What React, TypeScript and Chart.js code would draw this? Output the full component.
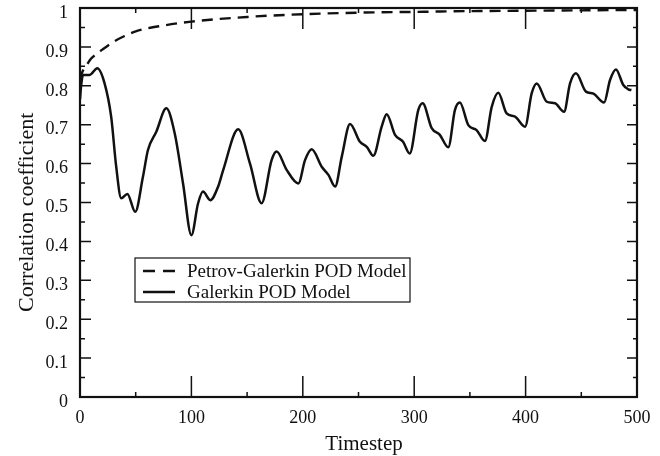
import React, { useEffect, useRef } from "react";
import { Chart, registerables } from "chart.js";
Chart.register(...registerables);

// Petrov-Galerkin POD Model (dashed)
const pgSteps = [0, 2, 6, 10, 15, 20, 30, 40, 50, 75, 100, 150, 200, 250, 300, 350, 400, 450, 500];
const pgValues = [0.815, 0.835, 0.853, 0.87, 0.882, 0.893, 0.913, 0.928, 0.94, 0.955, 0.965, 0.977, 0.984, 0.988, 0.99, 0.992, 0.993, 0.994, 0.995];

// Galerkin POD Model (solid)
const gSteps = [
  0, 1, 2.7, 8.7, 15.5, 22, 28, 32.5, 37, 42.5, 49.6, 56.5, 61, 68.5, 77.5, 85, 92.5, 100, 106, 110.4,
  117, 124, 128.6, 142, 152.6, 163, 172, 176.5, 185.5, 196, 202, 208, 217, 223, 229, 235, 242.4, 251.3,
  257.4, 263.3, 270.8, 275.3, 282.8, 290, 296, 303.7, 307.6, 315.7, 323, 330.6, 336.6, 341, 348.6, 356,
  363.5, 369.6, 375.5, 383, 390.5, 399.5, 405.5, 410, 419, 426.4, 434.5, 439.9, 445.2, 454.2, 460.8,
  470.4, 475.8, 481.1, 487.7, 492.2, 495,
];
const gValues = [
  0.765, 0.8, 0.828, 0.828, 0.845, 0.807, 0.72, 0.592, 0.511, 0.522, 0.476, 0.566, 0.635, 0.682, 0.742,
  0.678, 0.549, 0.416, 0.498, 0.528, 0.506, 0.541, 0.584, 0.688, 0.6, 0.498, 0.609, 0.631, 0.584, 0.549,
  0.609, 0.637, 0.592, 0.571, 0.541, 0.618, 0.702, 0.656, 0.643, 0.62, 0.695, 0.727, 0.674, 0.656, 0.626,
  0.738, 0.755, 0.691, 0.674, 0.642, 0.738, 0.757, 0.699, 0.686, 0.658, 0.746, 0.782, 0.729, 0.721,
  0.695, 0.781, 0.806, 0.759, 0.755, 0.733, 0.806, 0.832, 0.785, 0.78, 0.757, 0.815, 0.842, 0.802,
  0.791, 0.789,
];

const xMajor = [0, 100, 200, 300, 400, 500];
const xMinor = [50, 150, 250, 350, 450];
const yMajor = [0, 0.1, 0.2, 0.3, 0.4, 0.5, 0.6, 0.7, 0.8, 0.9, 1];
const yMinor = [0.05, 0.15, 0.25, 0.35, 0.45, 0.55, 0.65, 0.75, 0.85, 0.95];

const xTitle = "Timestep";
const yTitle = "Correlation coefficient";
const FONT = "'Liberation Serif', 'Times New Roman', serif";
const INK = "#111";

const framePlugin = {
  id: "frameTicks",
  afterDatasetsDraw(chart: any) {
    const { ctx, chartArea: a, scales } = chart;
    const xs = scales.x;
    const ys = scales.y;
    ctx.save();
    ctx.strokeStyle = INK;
    ctx.lineWidth = 1.5;
    ctx.beginPath();
    xMajor.forEach((v) => {
      const px = xs.getPixelForValue(v);
      ctx.moveTo(px, a.bottom);
      ctx.lineTo(px, a.bottom - 21);
      ctx.moveTo(px, a.top);
      ctx.lineTo(px, a.top + 21);
    });
    xMinor.forEach((v) => {
      const px = xs.getPixelForValue(v);
      ctx.moveTo(px, a.bottom);
      ctx.lineTo(px, a.bottom - 5);
      ctx.moveTo(px, a.top);
      ctx.lineTo(px, a.top + 5);
    });
    yMajor.forEach((v) => {
      const py = ys.getPixelForValue(v);
      ctx.moveTo(a.left, py);
      ctx.lineTo(a.left + 11, py);
      ctx.moveTo(a.right, py);
      ctx.lineTo(a.right - 10, py);
    });
    yMinor.forEach((v) => {
      const py = ys.getPixelForValue(v);
      ctx.moveTo(a.left, py);
      ctx.lineTo(a.left + 5, py);
      ctx.moveTo(a.right, py);
      ctx.lineTo(a.right - 4, py);
    });
    ctx.stroke();
    ctx.lineWidth = 2.2;
    ctx.strokeRect(a.left, a.top, a.right - a.left, a.bottom - a.top);

    // axis titles
    ctx.fillStyle = INK;
    ctx.textAlign = "center";
    ctx.textBaseline = "alphabetic";
    ctx.font = `21px ${FONT}`;
    ctx.fillText(xTitle, a.left + (a.right - a.left) * 0.51, 450);
    ctx.save();
    ctx.font = `22px ${FONT}`;
    ctx.translate(33, a.top + (a.bottom - a.top) * 0.525);
    ctx.rotate(-Math.PI / 2);
    ctx.fillText(yTitle, 0, 0);
    ctx.restore();

    // legend
    const lx = a.left + 55;
    const ly = a.top + 250;
    const lw = 275;
    const lh = 44;
    ctx.lineWidth = 1.2;
    ctx.strokeStyle = INK;
    ctx.fillStyle = "#fff";
    ctx.fillRect(lx, ly, lw, lh);
    ctx.strokeRect(lx, ly, lw, lh);
    ctx.font = `19px ${FONT}`;
    ctx.textAlign = "left";
    ctx.textBaseline = "middle";
    chart.data.datasets.forEach((ds: any, i: number) => {
      const cy = ly + 13 + i * 21;
      ctx.save();
      ctx.strokeStyle = ds.borderColor;
      ctx.lineWidth = ds.borderWidth;
      ctx.setLineDash(ds.borderDash ? [12, 8] : []);
      ctx.beginPath();
      ctx.moveTo(lx + 8, cy);
      ctx.lineTo(lx + 40, cy);
      ctx.stroke();
      ctx.restore();
      ctx.fillStyle = INK;
      ctx.fillText(ds.label, lx + 52, cy + 1);
    });
    ctx.restore();
  },
};

export default function App() {
  const ref = useRef<HTMLCanvasElement>(null);
  useEffect(() => {
    document.body.style.margin = "0";
    const chart = new Chart(ref.current as HTMLCanvasElement, {
      type: "line",
      data: {
        datasets: [
          {
            label: "Petrov-Galerkin POD Model",
            data: pgSteps.map((s, i) => ({ x: s, y: pgValues[i] })),
            borderColor: INK,
            borderWidth: 2.4,
            borderDash: [11, 7],
            pointRadius: 0,
            fill: false,
            cubicInterpolationMode: "monotone",
          },
          {
            label: "Galerkin POD Model",
            data: gSteps.map((s, i) => ({ x: s, y: gValues[i] })),
            borderColor: INK,
            borderWidth: 2.5,
            pointRadius: 0,
            fill: false,
            cubicInterpolationMode: "monotone",
          },
        ],
      },
      options: {
        responsive: false,
        animation: false,
        devicePixelRatio: 1,
        layout: { padding: { left: 0, right: 23, top: 8, bottom: 0 } },
        plugins: { legend: { display: false }, tooltip: { enabled: false } },
        scales: {
          x: {
            type: "linear",
            min: 0,
            max: 500,
            grid: { display: false, drawTicks: false },
            border: { display: false },
            ticks: {
              stepSize: 100,
              padding: 10,
              color: INK,
              font: { family: FONT, size: 18 },
              maxRotation: 0,
            },
            afterFit: (s: any) => {
              s.height = 59;
              s.paddingLeft = 0;
              s.paddingRight = 0;
            },
          },
          y: {
            type: "linear",
            min: 0,
            max: 1,
            grid: { display: false, drawTicks: false },
            border: { display: false },
            ticks: {
              stepSize: 0.1,
              padding: 12,
              labelOffset: 5,
              color: INK,
              font: { family: FONT, size: 18 },
              callback: (v: any) => String(Number(Number(v).toFixed(2))),
            },
            afterFit: (s: any) => {
              s.width = 80;
              s.paddingTop = 0;
              s.paddingBottom = 0;
            },
          },
        },
      },
      plugins: [framePlugin],
    });
    return () => chart.destroy();
  }, []);
  return (
    <div style={{ width: 660, height: 456 }}>
      <canvas ref={ref} width={660} height={456} />
    </div>
  );
}
